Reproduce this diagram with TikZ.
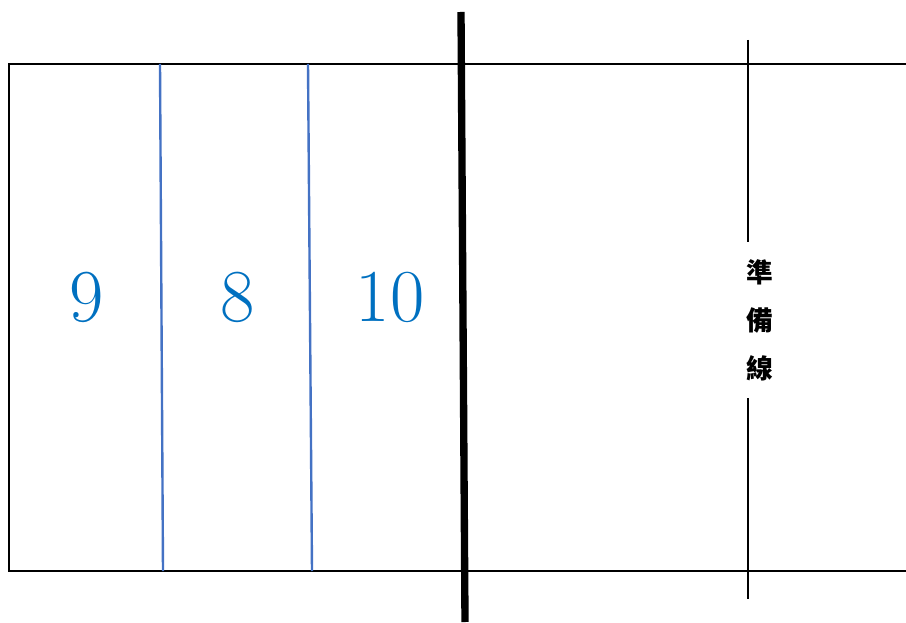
\documentclass[tikz,border=0pt]{standalone}
\usepackage{fontspec}
\usepackage{xcolor}
\usepackage{tikz}
\usetikzlibrary{positioning}
\newfontfamily\cjk{Noto Sans CJK TC}
\definecolor{zoneblue}{HTML}{0070C0}
\definecolor{laneblue}{HTML}{4472C4}
\tikzstyle{court} = [draw=black, line width=1.8pt]
\tikzstyle{lane} = [draw=laneblue, line width=1.8pt]
\tikzstyle{centreline} = [draw=black, line width=5.5pt]
\tikzstyle{zone} = [text=zoneblue, font=\fontsize{56}{60}\selectfont, inner sep=0pt]
\tikzstyle{prepline} = [draw=black, line width=1.8pt]
\tikzstyle{preplabel} = [font=\cjk\bfseries\fontsize{20}{36}\selectfont, align=center, inner xsep=2pt, inner ysep=13pt]

\begin{document}
\begin{tikzpicture}[x=0.75pt, y=-0.75pt]
    % 画布
    \useasboundingbox (0,0) rectangle (906,623);

    % 场地边线
    \coordinate (courtTR) at (906,64);
    \coordinate (courtTL) at (9,64);
    \coordinate (courtBL) at (9,571);
    \coordinate (courtBR) at (906,571);
    \draw [court] (courtTR) -- (courtTL) -- (courtBL) -- (courtBR);

    % 分区线
    \coordinate (laneAtop) at (160,64);
    \coordinate (laneAbot) at (163,571);
    \coordinate (laneBtop) at (308,64);
    \coordinate (laneBbot) at (312,571);
    \draw [lane] (laneAtop) -- (laneAbot);
    \draw [lane] (laneBtop) -- (laneBbot);

    % 中线
    \coordinate (midtop) at (461,12);
    \coordinate (midbot) at (465,622);
    \draw [centreline] (midtop) -- (midbot);

    % 区号
    \node [zone] (zone9) at (87,297) {9};
    \node [zone] (zone8) at (238,297) {8};
    \node [zone] (zone10) at (390,297) {10};

    % 準備線
    \node [preplabel] (prep) at (760,320) {準\\備\\線};
    \coordinate (preptop) at (748,40);
    \coordinate (prepbot) at (748,599);
    \draw [prepline] (preptop) -- (preptop |- prep.north);
    \draw [prepline] (prepbot |- prep.south) -- (prepbot);
\end{tikzpicture}
\end{document}
